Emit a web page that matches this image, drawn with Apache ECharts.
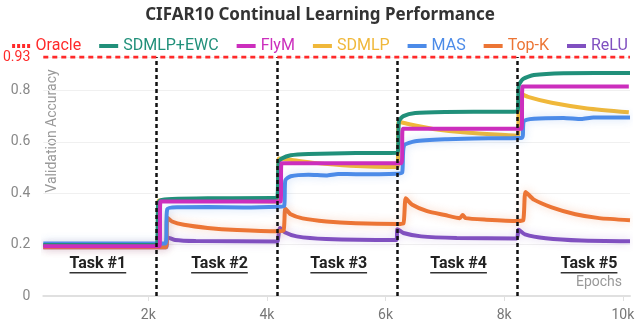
<!DOCTYPE html>
<html>
<head>
<meta charset="utf-8">
<script src="https://cdn.jsdelivr.net/npm/echarts@6/dist/echarts.min.js"></script>
<style>
  html, body { margin: 0; padding: 0; background: #fff; }
  #chart { width: 640px; height: 323px; }
</style>
</head>
<body>
<div id="chart"></div>
<script>
// values: [epoch, validation accuracy]
const oracleValue = 0.93;
const taskBoundaries = [2140, 4180, 6200, 8220];
const taskLabels = ['Task #1', 'Task #2', 'Task #3', 'Task #4', 'Task #5'];
const taskLabelPos = [[1150, 0.125], [3200, 0.125], [5210, 0.125], [7230, 0.125], [9430, 0.125]];
const xTicks = [2000, 4000, 6000, 8000, 10000];
const yTicks = [0, 0.2, 0.4, 0.6, 0.8, 0.93];

const sdmlpEwc = [
  [230, 0.198], [2140, 0.198], [2165, 0.36], [2200, 0.372], [2400, 0.377], [3000, 0.38], [4170, 0.382],
  [4195, 0.52], [4250, 0.535], [4400, 0.548], [4700, 0.553], [5500, 0.556], [6200, 0.557],
  [6225, 0.68], [6300, 0.70], [6500, 0.712], [7000, 0.716], [8220, 0.718],
  [8245, 0.82], [8320, 0.845], [8500, 0.86], [9000, 0.867], [10120, 0.868]
];
const flyM = [
  [230, 0.194], [2190, 0.194], [2205, 0.368], [4230, 0.368], [4245, 0.517], [6270, 0.517],
  [6290, 0.651], [8290, 0.651], [8310, 0.815], [10100, 0.815]
];
const sdmlp = [
  [230, 0.196], [2150, 0.196], [2175, 0.372], [2400, 0.372], [4180, 0.368],
  [4200, 0.535], [4400, 0.53], [4800, 0.518], [5400, 0.507], [6200, 0.502],
  [6220, 0.678], [6400, 0.668], [6800, 0.65], [7400, 0.635], [8230, 0.624],
  [8250, 0.79], [8400, 0.775], [8800, 0.752], [9400, 0.73], [10100, 0.715]
];
const mas = [
  [230, 0.204], [2290, 0.204], [2320, 0.338], [2500, 0.345], [3000, 0.346], [3600, 0.344], [4200, 0.347], [4290, 0.35],
  [4310, 0.45], [4400, 0.466], [4700, 0.472], [5000, 0.469], [5200, 0.475], [5500, 0.474], [6200, 0.476], [6280, 0.48],
  [6310, 0.585], [6500, 0.602], [7000, 0.61], [7500, 0.613], [8300, 0.616],
  [8330, 0.68], [8500, 0.69], [9000, 0.693], [9300, 0.689], [9500, 0.695], [10120, 0.695]
];
const topK = [
  [230, 0.19], [2300, 0.19], [2320, 0.305], [2400, 0.29], [2600, 0.277], [3000, 0.265], [3500, 0.257], [4180, 0.252],
  [4280, 0.255], [4310, 0.34], [4400, 0.318], [4600, 0.302], [5000, 0.29], [5500, 0.283], [6200, 0.28],
  [6300, 0.282], [6340, 0.38], [6450, 0.355], [6700, 0.33], [7000, 0.315], [7250, 0.303], [7300, 0.315], [7350, 0.303],
  [7700, 0.297], [8220, 0.292],
  [8320, 0.295], [8360, 0.405], [8500, 0.375], [8800, 0.345], [9200, 0.318], [9600, 0.303], [10120, 0.295]
];
const relu = [
  [230, 0.19], [2300, 0.19], [2320, 0.228], [2450, 0.218], [2800, 0.214], [4150, 0.212],
  [4180, 0.213], [4220, 0.265], [4300, 0.248], [4500, 0.232], [5000, 0.222], [6180, 0.218],
  [6200, 0.26], [6300, 0.245], [6600, 0.232], [7200, 0.226], [8210, 0.224],
  [8240, 0.258], [8350, 0.24], [8700, 0.225], [9300, 0.216], [10120, 0.213]
];

const colors = {
  'Oracle': '#ff2a2a',
  'SDMLP+EWC': '#21907a',
  'FlyM': '#cc2ebd',
  'SDMLP': '#f0b83a',
  'MAS': '#4c8be8',
  'Top-K': '#ec7535',
  'ReLU': '#8050c0'
};
const legendNames = ['Oracle', 'SDMLP+EWC', 'FlyM', 'SDMLP', 'MAS', 'Top-K', 'ReLU'];
const dottedIcon = 'path://M0,0h3v4h-3z M5,0h3v4h-3z M10,0h3v4h-3z M15,0h3v4h-3z';

const chart = echarts.init(document.getElementById('chart'));

function lineSeries(name, data, z, glow) {
  return {
    name: name,
    type: 'line',
    data: data,
    symbol: 'none',
    z: z,
    smooth: 0.2,
    lineStyle: {
      color: colors[name],
      width: 4,
      shadowColor: glow || 'transparent',
      shadowBlur: glow ? 8 : 0
    },
    itemStyle: { color: colors[name] }
  };
}

const measureCtx = document.createElement('canvas').getContext('2d');
measureCtx.font = 'bold 16px Roboto';

const option = {
  animation: false,
  title: {
    text: 'CIFAR10 Continual Learning Performance',
    left: 'center',
    top: 2,
    textStyle: { fontFamily: 'Noto Sans', fontSize: 17, fontWeight: 'bold', color: '#333' }
  },
  legend: {
    top: 33,
    left: 'center',
    icon: 'rect',
    itemWidth: 19,
    itemHeight: 4,
    itemGap: 18,
    data: legendNames.map(n => ({
      name: n,
      icon: n === 'Oracle' ? dottedIcon : 'rect',
      textStyle: { color: colors[n] }
    })),
    textStyle: { fontFamily: 'Roboto', fontSize: 16 }
  },
  grid: { left: 37, right: 10, top: 57, bottom: 27 },
  xAxis: {
    type: 'value',
    min: 230,
    max: 10120,
    axisLine: { lineStyle: { color: '#e0e0e0', width: 2 } },
    axisTick: { customValues: xTicks, length: 5, lineStyle: { color: '#e0e0e0' } },
    axisLabel: {
      customValues: xTicks,
      margin: 12,
      color: '#777',
      fontFamily: 'Roboto',
      fontSize: 14,
      formatter: v => (v / 1000) + 'k'
    },
    splitLine: { show: false }
  },
  yAxis: {
    type: 'value',
    min: 0,
    max: oracleValue,
    axisLine: { show: false },
    axisTick: { show: false, customValues: yTicks },
    axisLabel: {
      customValues: yTicks,
      margin: 13,
      color: '#888',
      fontFamily: 'Roboto',
      fontSize: 14,
      formatter: v => v === oracleValue ? '{o|' + v + '}' : String(v),
      rich: { o: { color: '#ff2a2a', fontFamily: 'Roboto', fontSize: 14 } }
    },
    splitLine: { lineStyle: { color: '#f0f0f0' } }
  },
  graphic: [
    {
      type: 'text',
      x: 52, y: 131,
      rotation: Math.PI / 2,
      style: {
        text: 'Validation Accuracy',
        fill: '#999',
        font: '14px Roboto',
        align: 'center',
        verticalAlign: 'middle'
      }
    },
    {
      type: 'text',
      right: 18, top: 275,
      style: { text: 'Epochs', fill: '#999', font: '14px Roboto' }
    }
  ],
  series: [
    {
      name: 'Oracle',
      type: 'line',
      data: [[230, oracleValue], [10120, oracleValue]],
      symbol: 'none',
      z: 5,
      lineStyle: { color: colors['Oracle'], width: 3, type: [5, 4] },
      itemStyle: { color: colors['Oracle'] },
      markLine: {
        silent: true,
        symbol: 'none',
        label: { show: false },
        lineStyle: { color: '#111', width: 2.5, type: [4, 3] },
        data: taskBoundaries.map(x => ({ xAxis: x }))
      }
    },
    lineSeries('ReLU', relu, 2, 'rgba(128,80,192,0.25)'),
    lineSeries('Top-K', topK, 2, 'rgba(236,117,53,0.3)'),
    lineSeries('SDMLP', sdmlp, 3),
    lineSeries('MAS', mas, 3, 'rgba(76,139,232,0.3)'),
    lineSeries('SDMLP+EWC', sdmlpEwc, 3),
    lineSeries('FlyM', flyM, 4),
    {
      name: 'tasks',
      type: 'custom',
      z: 6,
      silent: true,
      data: taskLabelPos,
      renderItem: function (params, api) {
        const p = api.coord([api.value(0), api.value(1)]);
        const label = taskLabels[params.dataIndex];
        const w = measureCtx.measureText(label).width;
        return {
          type: 'group',
          children: [
            {
              type: 'text',
              x: p[0], y: p[1],
              style: { text: label, fill: '#222', font: 'bold 16px Roboto', align: 'center', verticalAlign: 'middle' }
            },
            {
              type: 'rect',
              shape: { x: p[0] - w / 2, y: p[1] + 8, width: w, height: 1.5 },
              style: { fill: '#333' }
            }
          ]
        };
      }
    }
  ]
};

chart.setOption(option);
</script>
</body>
</html>
